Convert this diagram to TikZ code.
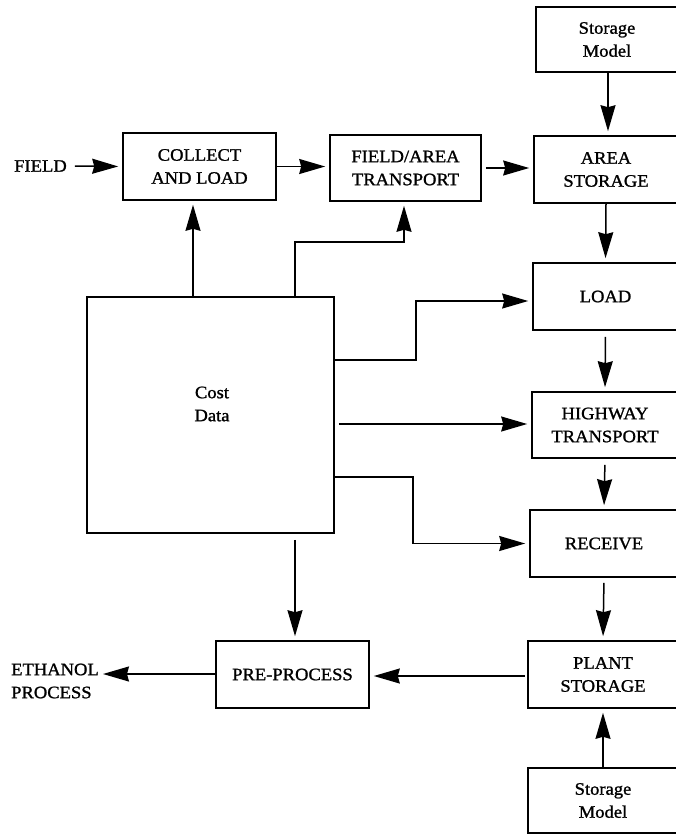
\documentclass[tikz,border=0pt]{standalone}
\usepackage{fontspec}
\setmainfont{Liberation Serif}[FakeStretch=1.06,FakeBold=1.2]
\usetikzlibrary{arrows.meta}
\newcommand\lblfont{\fontsize{17.5}{23}\selectfont}
\begin{document}
\begin{tikzpicture}[x=1pt,y=-1pt,
  box/.style={draw, line width=1.6pt, inner sep=0pt, align=center, font=\lblfont},
  txt/.style={inner sep=0pt, align=left, font=\lblfont},
  arr/.style={-{Stealth[length=26pt,width=15pt,inset=2pt]}, line width=1.5pt, shorten >=4pt}]
\useasboundingbox (0,0) rectangle (676,835);
% boxes
\node[box, minimum width=142pt, minimum height=65pt] (sm1) at (607,39.5) {Storage\\Model};
\node[box, minimum width=153pt, minimum height=67pt] (col) at (199.5,166.5) {COLLECT\\AND LOAD};
\node[box, minimum width=151pt, minimum height=66pt] (fat) at (405.5,168) {FIELD/AREA\\TRANSPORT};
\node[box, minimum width=144pt, minimum height=67pt] (ars) at (606,169.5) {AREA\\STORAGE};
\node[box, minimum width=145pt, minimum height=67pt] (load) at (605.5,296.5) {LOAD};
\node[box, minimum width=146pt, minimum height=66pt] (hwy) at (605,425) {HIGHWAY\\TRANSPORT};
\node[box, minimum width=148pt, minimum height=67pt] (rec) at (604,543.5) {RECEIVE};
\node[box, minimum width=150pt, minimum height=67pt] (pls) at (603,674.5) {PLANT\\STORAGE};
\node[box, minimum width=150pt, minimum height=65pt] (sm2) at (603,800.5) {Storage\\Model};
\node[box, minimum width=153pt, minimum height=67pt] (pre) at (292.5,674.5) {PRE-PROCESS};
\node[box, minimum width=247pt, minimum height=236pt] (cost) at (210.5,415) {};
\node[txt, align=center] (costlbl) at (212,404) {Cost\\Data};
\node[txt, anchor=west] (field) at (14,166) {FIELD};
\node[txt, anchor=west] (eth) at (11,681) {ETHANOL\\PROCESS};
% connectors
\draw[arr, shorten <=8pt] (field.east) -- (col.west);
\draw[arr] (col.east) -- (col.east -| fat.west);
\draw[arr, shorten <=4pt] (fat.east) -- (fat.east -| ars.west);
\draw[arr] (sm1.south -| 608,0) -- (ars.north -| 608,0);
\draw[arr] (ars.south) -- (load.north);
\draw[arr, shorten <=6pt] (load.south) -- (hwy.north);
\draw[arr, shorten <=6pt] (hwy.south) -- (rec.north);
\draw[arr, shorten <=5pt] (rec.south) -- (pls.north);
\draw[arr] (sm2.north) -- (pls.south);
\draw[arr, shorten <=2pt] (pls.west |- 0,676) -- (pre.east |- 0,676);
\draw[arr] (pre.west |- 0,674) -- (eth.east |- 0,674);
\draw[arr] (cost.north -| 193,0) -- (col.south -| 193,0);
\draw[arr] (cost.north -| 295,0) |- (404,242) -- (fat.south -| 404,0);
\draw[arr] (cost.east |- 0,360) -- (416,360) |- ([yshift=-4.5pt]load.west);
\draw[arr, shorten <=4pt] (cost.east |- 0,424) -- (hwy.west |- 0,424);
\draw[arr] (cost.east |- 0,477) -- (413,477) |- (rec.west);
\draw[arr, shorten <=6pt] (cost.south -| 295,0) -- (pre.north -| 295,0);
\end{tikzpicture}
\end{document}
